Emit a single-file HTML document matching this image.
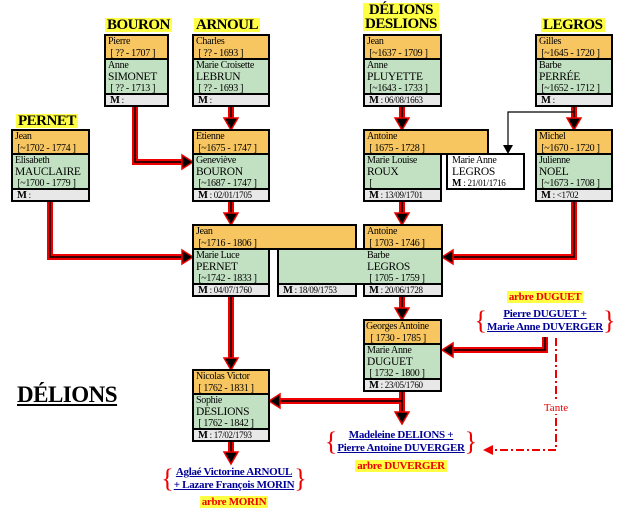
<!DOCTYPE html>
<html><head><meta charset="utf-8"><style>
body{margin:0;width:622px;height:515px;background:#fff;position:relative;overflow:hidden;font-family:"Liberation Serif",serif;}
.a{position:absolute;box-sizing:border-box;border:2px solid #000;white-space:nowrap;overflow:hidden;letter-spacing:-0.3px}
.o{background:#f8c660;font-size:10px;line-height:11.5px;padding:0 2px;}
.g{background:#c2e1c2;font-size:10px;line-height:11.5px;padding:0 2px;}
.m{background:#e8e8e8;font-size:9px;line-height:10px;padding:0 4px;}
.m b{font-size:10.5px}
.w{background:#fff;font-size:10px;line-height:11.5px;padding:0 4px;}
.big{font-size:11.5px}
.h{position:absolute;font-weight:bold;font-size:15px;line-height:14px;background:#ffff44;padding:0 2px;text-align:center;letter-spacing:-0.5px;white-space:nowrap}
.t{position:absolute;text-align:center;font-weight:bold;font-size:11px;line-height:13px;white-space:nowrap}
.lk{color:#000099;text-decoration:underline;font-weight:bold;font-size:11px;line-height:13px;letter-spacing:-0.3px;display:inline-block;vertical-align:middle}
.br{display:inline-block;vertical-align:middle;color:#e00;font-size:26px;font-weight:normal;line-height:28px}
.ar{background:#ffff44;color:#e00;font-weight:bold;font-size:11px;padding:0 2px;letter-spacing:-0.3px}
</style></head><body>
<svg width="622" height="515" style="position:absolute;left:0;top:0">
<g fill="none" stroke="#e00" stroke-width="6">
<path d="M135,106 V162 H184"/><path d="M231,106 V122"/><path d="M231,201 V217"/><path d="M50,201 V257 H184"/>
<path d="M402,106 V122"/><path d="M574,106 V122"/><path d="M402,201 V217"/><path d="M574,201 V257 H452"/>
<path d="M231,296 V362"/><path d="M402,296 V312"/><path d="M545,337 V350 H452"/><path d="M402,391 V412"/>
<path d="M402,401 H279"/><path d="M231,441 V456"/>
</g>
<g fill="none" stroke="#000" stroke-width="1.5">
<path d="M135,106 V162 H184"/><path d="M231,106 V122"/><path d="M231,201 V217"/><path d="M50,201 V257 H184"/>
<path d="M402,106 V122"/><path d="M574,106 V122"/><path d="M402,201 V217"/><path d="M574,201 V257 H452"/>
<path d="M231,296 V362"/><path d="M402,296 V312"/><path d="M545,337 V350 H452"/><path d="M402,391 V412"/>
<path d="M402,401 H279"/><path d="M231,441 V456"/>
</g>
<g fill="#000" stroke="#e00" stroke-width="1.5">
<path d="M182,155 L193,162 L182,169z"/><path d="M224,118 L231,130 L238,118z"/><path d="M224,213 L231,225 L238,213z"/>
<path d="M182,250 L193,257 L182,264z"/><path d="M395,118 L402,130 L409,118z"/><path d="M567,118 L574,130 L581,118z"/>
<path d="M395,213 L402,225 L409,213z"/><path d="M453,250 L442,257 L453,264z"/><path d="M224,358 L231,370 L238,358z"/>
<path d="M395,308 L402,320 L409,308z"/><path d="M453,343 L442,350 L453,357z"/><path d="M395,412 L402,424 L409,412z"/>
<path d="M280,394 L269,401 L280,408z"/><path d="M224,452 L231,464 L238,452z"/>
</g>
<path d="M574,112 H508 V146" fill="none" stroke="#000" stroke-width="1.2"/>
<path d="M503,145 L508,154 L513,145z" fill="#000"/>
<path d="M556,338 V450 H492" fill="none" stroke="#e00" stroke-width="2" stroke-dasharray="8,3,2,3"/>
<path d="M493,445 L483,450 L493,455z" fill="#e00"/>
<rect x="540" y="400" width="32" height="14" fill="#fff"/>
<text x="556" y="411" font-family="Liberation Serif" font-size="11" fill="#e00" text-anchor="middle">Tante</text>
</svg>

<div class="h" style="left:105px;top:18px">BOURON</div>
<div class="h" style="left:194px;top:18px">ARNOUL</div>
<div class="h" style="left:363px;top:3px">DÉLIONS<br>DESLIONS</div>
<div class="h" style="left:541px;top:18px">LEGROS</div>
<div class="h" style="left:16px;top:114px">PERNET</div>

<div class="a o" style="left:104px;top:34px;width:65px;height:26px">Pierre<br>&nbsp;[ ?? - 1707 ]</div>
<div class="a g" style="left:104px;top:58px;width:65px;height:37px">Anne<br><span class="big">SIMONET</span><br>&nbsp;[ ?? - 1713 ]</div>
<div class="a m" style="left:104px;top:93px;width:65px;height:14px"><b>M</b> :</div>

<div class="a o" style="left:192px;top:34px;width:78px;height:26px">Charles<br>&nbsp;[ ?? - 1693 ]</div>
<div class="a g" style="left:192px;top:58px;width:78px;height:37px">Marie Croisette<br><span class="big">LEBRUN</span><br>&nbsp;[ ?? - 1693 ]</div>
<div class="a m" style="left:192px;top:93px;width:78px;height:14px"><b>M</b> :</div>

<div class="a o" style="left:363px;top:34px;width:79px;height:26px">Jean<br>&nbsp;[~1637 - 1709 ]</div>
<div class="a g" style="left:363px;top:58px;width:79px;height:37px">Anne<br><span class="big">PLUYETTE</span><br>&nbsp;[~1643 - 1733 ]</div>
<div class="a m" style="left:363px;top:93px;width:79px;height:14px"><b>M</b> : 06/08/1663</div>

<div class="a o" style="left:535px;top:34px;width:78px;height:26px">Gilles<br>&nbsp;[~1645 - 1720 ]</div>
<div class="a g" style="left:535px;top:58px;width:78px;height:37px">Barbe<br><span class="big">PERRÉE</span><br>&nbsp;[~1652 - 1712 ]</div>
<div class="a m" style="left:535px;top:93px;width:78px;height:14px"><b>M</b> :</div>

<div class="a o" style="left:11px;top:129px;width:79px;height:26px">Jean<br>&nbsp;[~1702 - 1774 ]</div>
<div class="a g" style="left:11px;top:153px;width:79px;height:37px">Elisabeth<br><span class="big">MAUCLAIRE</span><br>&nbsp;[~1700 - 1779 ]</div>
<div class="a m" style="left:11px;top:188px;width:79px;height:14px"><b>M</b> :</div>

<div class="a o" style="left:192px;top:129px;width:78px;height:26px">Etienne<br>&nbsp;[~1675 - 1747 ]</div>
<div class="a g" style="left:192px;top:153px;width:78px;height:37px">Geneviève<br><span class="big">BOURON</span><br>&nbsp;[~1687 - 1747 ]</div>
<div class="a m" style="left:192px;top:188px;width:78px;height:14px"><b>M</b> : 02/01/1705</div>

<div class="a o" style="left:363px;top:129px;width:126px;height:26px">Antoine<br>&nbsp;[ 1675 - 1728 ]</div>
<div class="a g" style="left:363px;top:153px;width:79px;height:37px">Marie Louise<br><span class="big">ROUX</span><br>&nbsp;[</div>
<div class="a m" style="left:363px;top:188px;width:79px;height:14px"><b>M</b> : 13/09/1701</div>
<div class="a w" style="left:446px;top:153px;width:79px;height:37px">Marie Anne<br><span class="big">LEGROS</span><br><b>M</b> <span style="font-size:9px">: 21/01/1716</span></div>

<div class="a o" style="left:535px;top:129px;width:78px;height:26px">Michel<br>&nbsp;[~1670 - 1720 ]</div>
<div class="a g" style="left:535px;top:153px;width:78px;height:37px">Julienne<br><span class="big">NOEL</span><br>&nbsp;[~1673 - 1708 ]</div>
<div class="a m" style="left:535px;top:188px;width:78px;height:14px"><b>M</b> : &lt;1702</div>

<div class="a o" style="left:192px;top:224px;width:165px;height:26px">Jean<br>&nbsp;[~1716 - 1806 ]</div>
<div class="a g" style="left:192px;top:248px;width:78px;height:37px">Marie Luce<br><span class="big">PERNET</span><br>&nbsp;[~1742 - 1833 ]</div>
<div class="a m" style="left:192px;top:283px;width:78px;height:14px"><b>M</b> : 04/07/1760</div>

<div class="a g" style="left:277px;top:248px;width:166px;height:37px;padding-left:88px">Barbe<br><span class="big">LEGROS</span><br>&nbsp;[ 1705 - 1759 ]</div>
<div class="a o" style="left:363px;top:224px;width:80px;height:26px">Antoine<br>&nbsp;[ 1703 - 1746 ]</div>
<div class="a m" style="left:277px;top:283px;width:80px;height:14px"><b>M</b> : 18/09/1753</div>
<div class="a m" style="left:363px;top:283px;width:80px;height:14px"><b>M</b> : 20/06/1728</div>

<div class="a o" style="left:363px;top:319px;width:79px;height:26px;padding:0 1px">Georges Antoine<br>&nbsp;&nbsp;[ 1730 - 1785 ]</div>
<div class="a g" style="left:363px;top:343px;width:79px;height:37px">Marie Anne<br><span class="big">DUGUET</span><br>&nbsp;[ 1732 - 1800 ]</div>
<div class="a m" style="left:363px;top:378px;width:79px;height:14px"><b>M</b> : 23/05/1760</div>

<div class="a o" style="left:192px;top:369px;width:78px;height:26px">Nicolas Victor<br>&nbsp;[ 1762 - 1831 ]</div>
<div class="a g" style="left:192px;top:393px;width:78px;height:37px">Sophie<br><span class="big">DESLIONS</span><br>&nbsp;[ 1762 - 1842 ]</div>
<div class="a m" style="left:192px;top:428px;width:78px;height:14px"><b>M</b> : 17/02/1793</div>

<div style="position:absolute;left:17px;top:382px;font-size:23px;font-weight:bold;text-decoration:underline;line-height:26px;letter-spacing:-0.5px">DÉLIONS</div>

<div class="t" style="left:445px;top:291px;width:200px"><span class="ar">arbre DUGUET</span></div>
<div class="t" style="left:445px;top:307px;width:200px"><span class="br">{</span><span class="lk">Pierre DUGUET +<br>Marie Anne DUVERGER</span><span class="br">}</span></div>

<div class="t" style="left:300px;top:428px;width:202px"><span class="br">{</span><span class="lk">Madeleine DELIONS +<br>Pierre Antoine DUVERGER</span><span class="br">}</span></div>
<div class="t" style="left:300px;top:460px;width:202px"><span class="ar">arbre DUVERGER</span></div>

<div class="t" style="left:134px;top:465px;width:200px"><span class="br">{</span><span class="lk">Aglaé Victorine ARNOUL<br>+ Lazare François MORIN</span><span class="br">}</span></div>
<div class="t" style="left:134px;top:496px;width:200px"><span class="ar">arbre MORIN</span></div>
</body></html>
